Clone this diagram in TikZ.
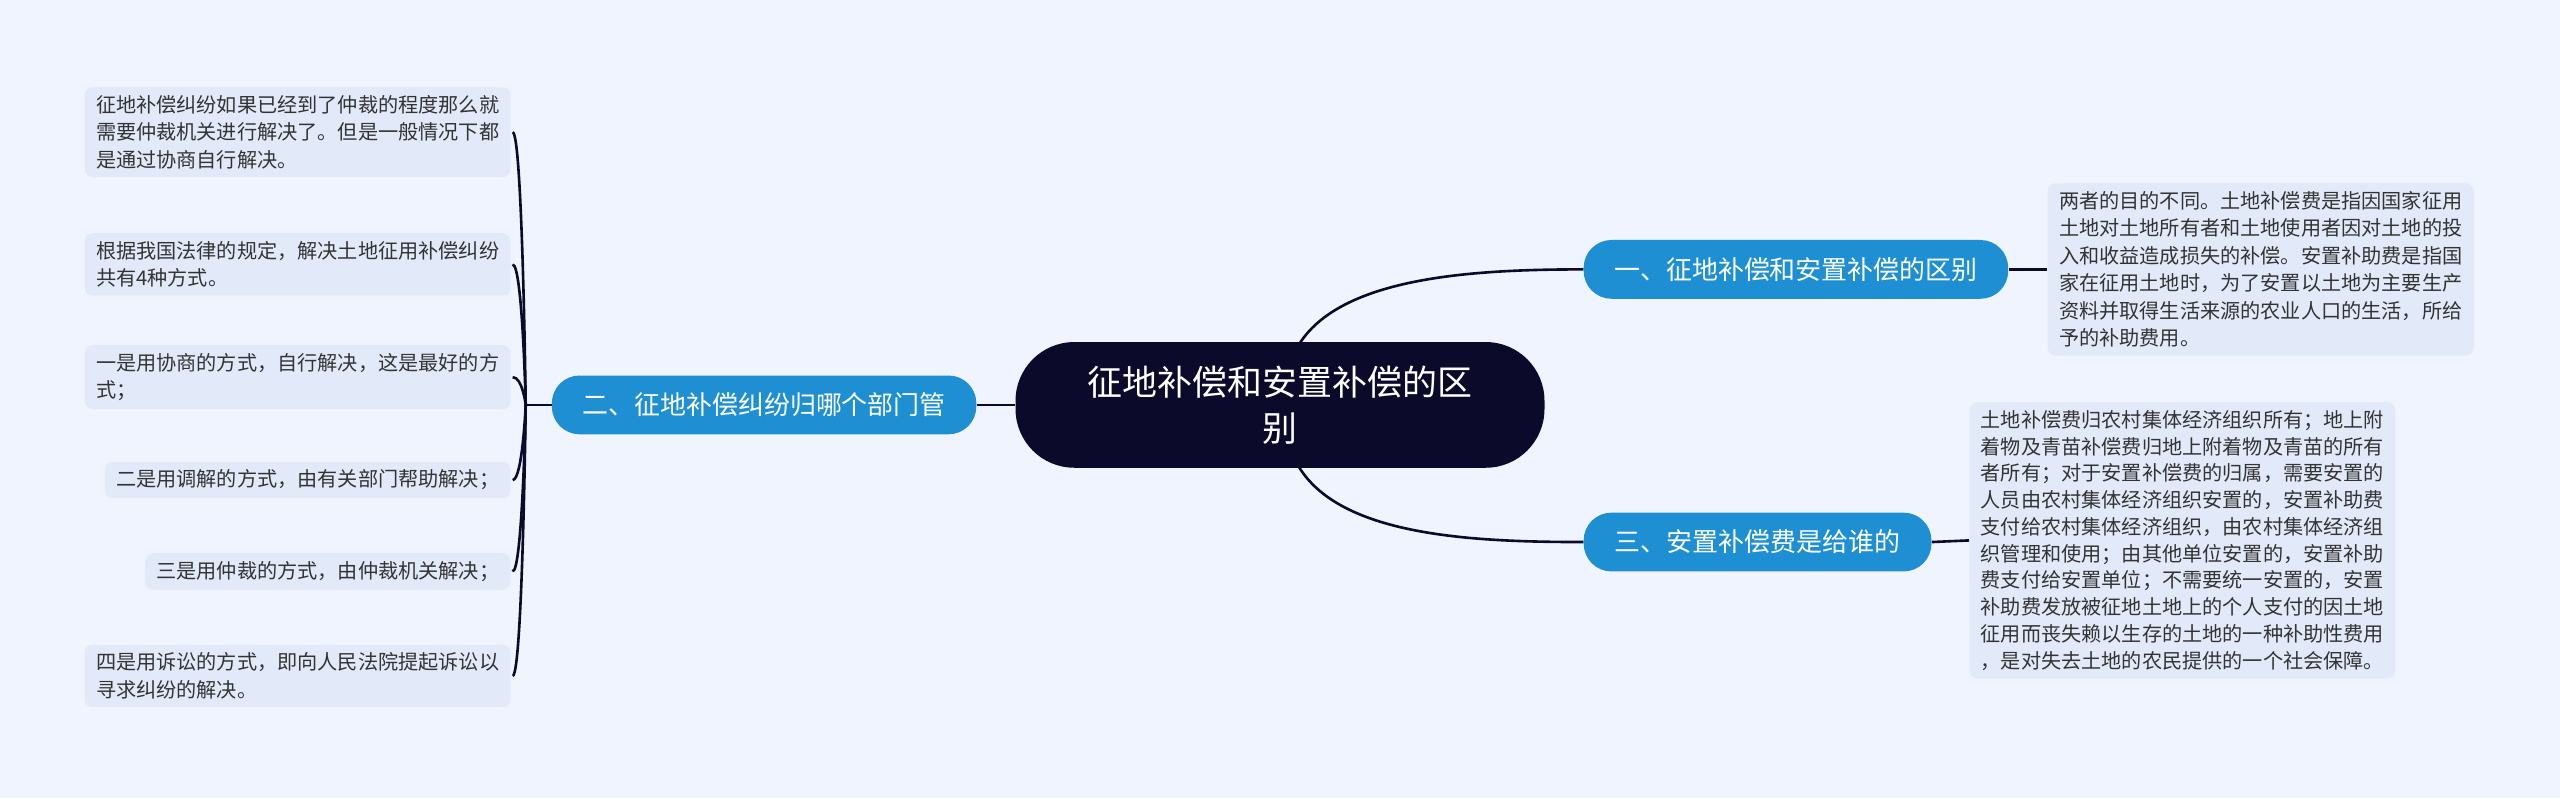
\documentclass[tikz,border=0pt]{standalone}
\usepackage{fontspec}
\newfontfamily\cjk{Noto Sans CJK SC}
\definecolor{bg}{HTML}{EFF4FE}
\definecolor{leaf}{HTML}{E2EAFA}
\definecolor{mblue}{HTML}{1E8FD2}
\definecolor{dark}{HTML}{0B0A2B}
\definecolor{txt}{HTML}{333333}
\tikzset{
 leafbox/.style={fill=leaf,rounded corners=5pt,inner xsep=7pt,inner ysep=5pt,align=left,text=txt,font=\cjk\fontsize{12.35}{16.8}\selectfont},
 mainbox/.style={fill=mblue,rounded corners=17pt,text=white,minimum height=36pt,inner xsep=18pt,font=\cjk\fontsize{15.9}{20}\selectfont},
 link/.style={draw=dark,line width=1.6pt}
}
\begin{document}
\begin{tikzpicture}[x=1pt,y=-1pt]
\fill[bg] (0,0) rectangle (1568,489);
\useasboundingbox (0,0) rectangle (1568,489);
\node[fill=dark,rounded corners=36pt,minimum width=324pt,minimum height=77pt,text=white,align=center,font=\cjk\fontsize{21.4}{28}\selectfont] (c) at (784,248) {征地补偿和安置补偿的区\\别};
\node[mainbox,minimum width=260pt] (n1) at (1100,165) {一、征地补偿和安置补偿的区别};
\node[mainbox,minimum width=213pt] (n3) at (1076.5,332) {三、安置补偿费是给谁的};
\node[mainbox,minimum width=260pt] (n2) at (468,248) {二、征地补偿纠纷归哪个部门管};
\node[leafbox,anchor=west] (r1) at (1254,165) {两者的目的不同。土地补偿费是指因国家征用\\土地对土地所有者和土地使用者因对土地的投\\入和收益造成损失的补偿。安置补助费是指国\\家在征用土地时，为了安置以土地为主要生产\\资料并取得生活来源的农业人口的生活，所给\\予的补助费用。};
\node[leafbox,anchor=west,font=\cjk\fontsize{12.35}{16.4}\selectfont] (r3) at (1206,331) {土地补偿费归农村集体经济组织所有；地上附\\着物及青苗补偿费归地上附着物及青苗的所有\\者所有；对于安置补偿费的归属，需要安置的\\人员由农村集体经济组织安置的，安置补助费\\支付给农村集体经济组织，由农村集体经济组\\织管理和使用；由其他单位安置的，安置补助\\费支付给安置单位；不需要统一安置的，安置\\补助费发放被征地土地上的个人支付的因土地\\征用而丧失赖以生存的土地的一种补助性费用\\，是对失去土地的农民提供的一个社会保障。};
\node[leafbox,anchor=east] (l1) at (313,81) {征地补偿纠纷如果已经到了仲裁的程度那么就\\需要仲裁机关进行解决了。但是一般情况下都\\是通过协商自行解决。};
\node[leafbox,anchor=east] (l2) at (313,162) {根据我国法律的规定，解决土地征用补偿纠纷\\共有4种方式。};
\node[leafbox,anchor=east] (l3) at (313,231) {一是用协商的方式，自行解决，这是最好的方\\式；};
\node[leafbox,anchor=east] (l4) at (313,294) {二是用调解的方式，由有关部门帮助解决；};
\node[leafbox,anchor=east] (l5) at (313,350) {三是用仲裁的方式，由仲裁机关解决；};
\node[leafbox,anchor=east] (l6) at (313,414) {四是用诉讼的方式，即向人民法院提起诉讼以\\寻求纠纷的解决。};
\coordinate (j) at (322,248);
\draw[link] (c.west) -- (n2.east);
\draw[link] (n2.west) -- (j);
\foreach \l in {l1,l2,l3,l4,l5,l6}{
  \draw[link] (j) .. controls (322,248) and (320,0|-\l.east) .. ([xshift=1pt]\l.east);
}
\draw[link] (795,212) .. controls (820,170) and (900,165) .. (n1.west);
\draw[link] (795,285) .. controls (820,328) and (900,332) .. (n3.west);
\draw[link] (n1.east) -- (r1.west);
\draw[link] (n3.east) -- (r3.west);
\end{tikzpicture}
\end{document}
